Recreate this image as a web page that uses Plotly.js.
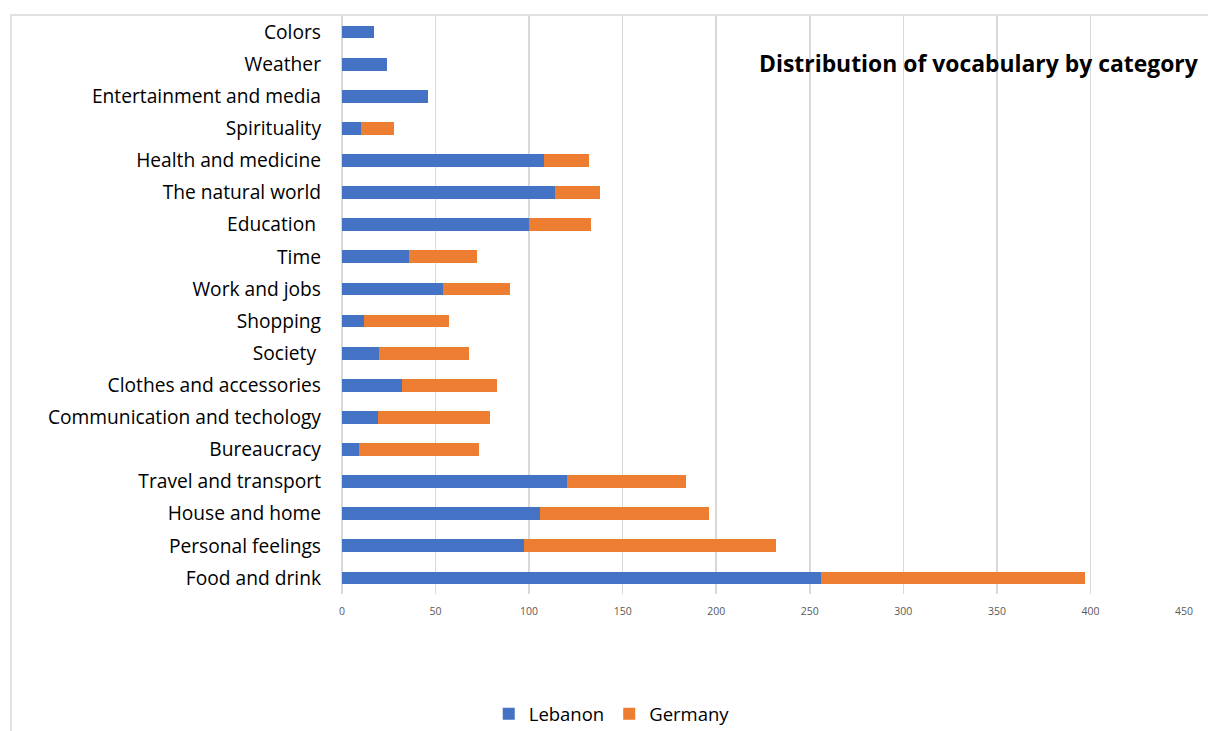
<!DOCTYPE html>
<html>
<head>
<meta charset="utf-8">
<script src="https://cdn.plot.ly/plotly-3.0.1.min.js"></script>
<style>
  html, body { margin: 0; padding: 0; background: #ffffff; }
  #chart { width: 1208px; height: 731px; }
</style>
</head>
<body>
<div id="chart"></div>
<script>
// Vocabulary categories, listed top to bottom
const categories = [
  "Colors", "Weather", "Entertainment and media", "Spirituality",
  "Health and medicine", "The natural world", "Education\u00a0", "Time",
  "Work and jobs", "Shopping", "Society\u00a0", "Clothes and accessories",
  "Communication and techology", "Bureaucracy", "Travel and transport",
  "House and home", "Personal feelings", "Food and drink"
];

// Word counts per category
const lebanon = [17, 24, 46, 10, 108, 114, 100, 36, 54, 12, 20, 32, 19, 9, 120, 106, 97, 256];
const germany = [0, 0, 0, 18, 24, 24, 33, 36, 36, 45, 48, 51, 60, 64, 64, 90, 135, 141];

const xTicks = [0, 50, 100, 150, 200, 250, 300, 350, 400, 450];

const labelFont = "'Open Sans', 'Noto Sans', sans-serif";

const traces = [
  {
    type: "bar", orientation: "h", name: "Lebanon",
    y: categories, x: lebanon,
    marker: { color: "#4472C4" }, hoverinfo: "x+y"
  },
  {
    type: "bar", orientation: "h", name: "Germany",
    y: categories, x: germany,
    marker: { color: "#ED7D31" }, hoverinfo: "x+y"
  }
];

const layout = {
  width: 1208, height: 731,
  paper_bgcolor: "#ffffff", plot_bgcolor: "#ffffff",
  margin: { l: 342, r: 24, t: 16, b: 137, pad: 0 },
  barmode: "stack",
  bargap: 0.6,
  showlegend: true,
  legend: {
    orientation: "h",
    xref: "container", yref: "container",
    x: 0.5064, xanchor: "center",
    y: 0.023, yanchor: "middle",
    itemwidth: 30,
    font: { family: labelFont, size: 18.5, color: "#000000" },
    traceorder: "normal"
  },
  xaxis: {
    range: [0, 450],
    tickvals: xTicks,
    ticktext: xTicks.map(String),
    showgrid: true, gridcolor: "#d9d9d9", gridwidth: 1.5,
    zeroline: true, zerolinecolor: "#d9d9d9", zerolinewidth: 1.5,
    showline: false, ticks: "",
    ticklabelstandoff: 9,
    tickfont: { family: labelFont, size: 10.5, color: "#595959" },
    fixedrange: true
  },
  yaxis: {
    type: "category",
    autorange: "reversed",
    showgrid: false, zeroline: false, showline: false, ticks: "",
    ticklabelstandoff: 20,
    tickfont: { family: labelFont, size: 19.2, color: "#000000" },
    fixedrange: true
  },
  annotations: [
    {
      text: "<b>Distribution of vocabulary by category</b>",
      xref: "paper", yref: "paper",
      x: 1.0203, xanchor: "right",
      y: 0.917, yanchor: "middle",
      showarrow: false,
      font: { family: labelFont, size: 22.9, color: "#000000" }
    }
  ],
  shapes: [
    {
      type: "rect", xref: "paper", yref: "paper",
      x0: -0.3931, x1: 1.2, y0: -0.6, y1: 1.0017,
      line: { color: "#d9d9d9", width: 1.5 },
      fillcolor: "rgba(0,0,0,0)", layer: "below"
    }
  ]
};

Plotly.newPlot("chart", traces, layout, { displayModeBar: false, staticPlot: true });
</script>
</body>
</html>
